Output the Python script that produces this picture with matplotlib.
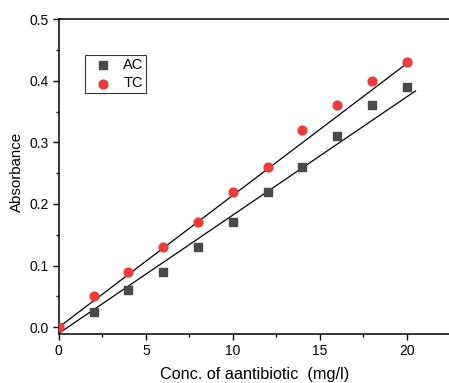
import numpy as np
import matplotlib.pyplot as plt
from matplotlib.ticker import MultipleLocator

plt.rcParams['font.family'] = ['Liberation Sans', 'DejaVu Sans']

conc_ac = [2, 4, 6, 8, 10, 12, 14, 16, 18, 20]
abs_ac = [0.025, 0.061, 0.09, 0.13, 0.17, 0.22, 0.26, 0.31, 0.36, 0.39]
conc_tc = [0, 2, 4, 6, 8, 10, 12, 14, 16, 18, 20]
abs_tc = [0.0, 0.05, 0.09, 0.13, 0.17, 0.22, 0.26, 0.32, 0.36, 0.40, 0.43]

# fitted lines: (slope, intercept, x end)
fit_ac = (0.0192, -0.010, 20.5)
fit_tc = (0.0214, 0.000, 20.25)

fig = plt.figure(figsize=(4.49, 3.83), dpi=100)
ax = fig.add_axes([0.131, 0.128, 0.872, 0.822])

ax.scatter(conc_ac, abs_ac, marker='s', s=30, color='#4a4a4a', label='AC', zorder=3)
ax.scatter(conc_tc, abs_tc, marker='o', s=40, color='#ec3a3d', label='TC', zorder=3)

for k, b, xe in [fit_ac, fit_tc]:
    xx = np.array([-1, xe])
    ax.plot(xx, k * xx + b, color='black', lw=0.9, zorder=2)

ax.set_xlim(0, 22.5)
ax.set_ylim(-0.011, 0.5)
ax.xaxis.set_major_locator(MultipleLocator(5))
ax.xaxis.set_minor_locator(MultipleLocator(2.5))
ax.yaxis.set_major_locator(MultipleLocator(0.1))
ax.yaxis.set_minor_locator(MultipleLocator(0.05))
ax.yaxis.set_major_formatter(plt.FormatStrFormatter('%.1f'))
ax.tick_params(which='major', length=4, width=1, labelsize=10, direction='out')
ax.tick_params(which='minor', length=2.5, width=1, direction='out')
ax.spines['right'].set_visible(False)
for s in ['left', 'bottom', 'top']:
    ax.spines[s].set_linewidth(1.1)

ax.set_xlabel('Conc. of aantibiotic  (mg/l)', fontsize=11.7, labelpad=6)
ax.set_ylabel('Absorbance', fontsize=10.8)
ax.yaxis.set_label_coords(-0.089, 0.514)

leg = ax.legend(loc='upper left', bbox_to_anchor=(0.066, 0.886), borderaxespad=0,
                fontsize=10.5, frameon=True, fancybox=False, edgecolor='black',
                handletextpad=0.35, borderpad=0.2, labelspacing=0.3, handlelength=2.1)
leg.get_frame().set_linewidth(0.8)

fig.savefig('out.png', dpi=100)
